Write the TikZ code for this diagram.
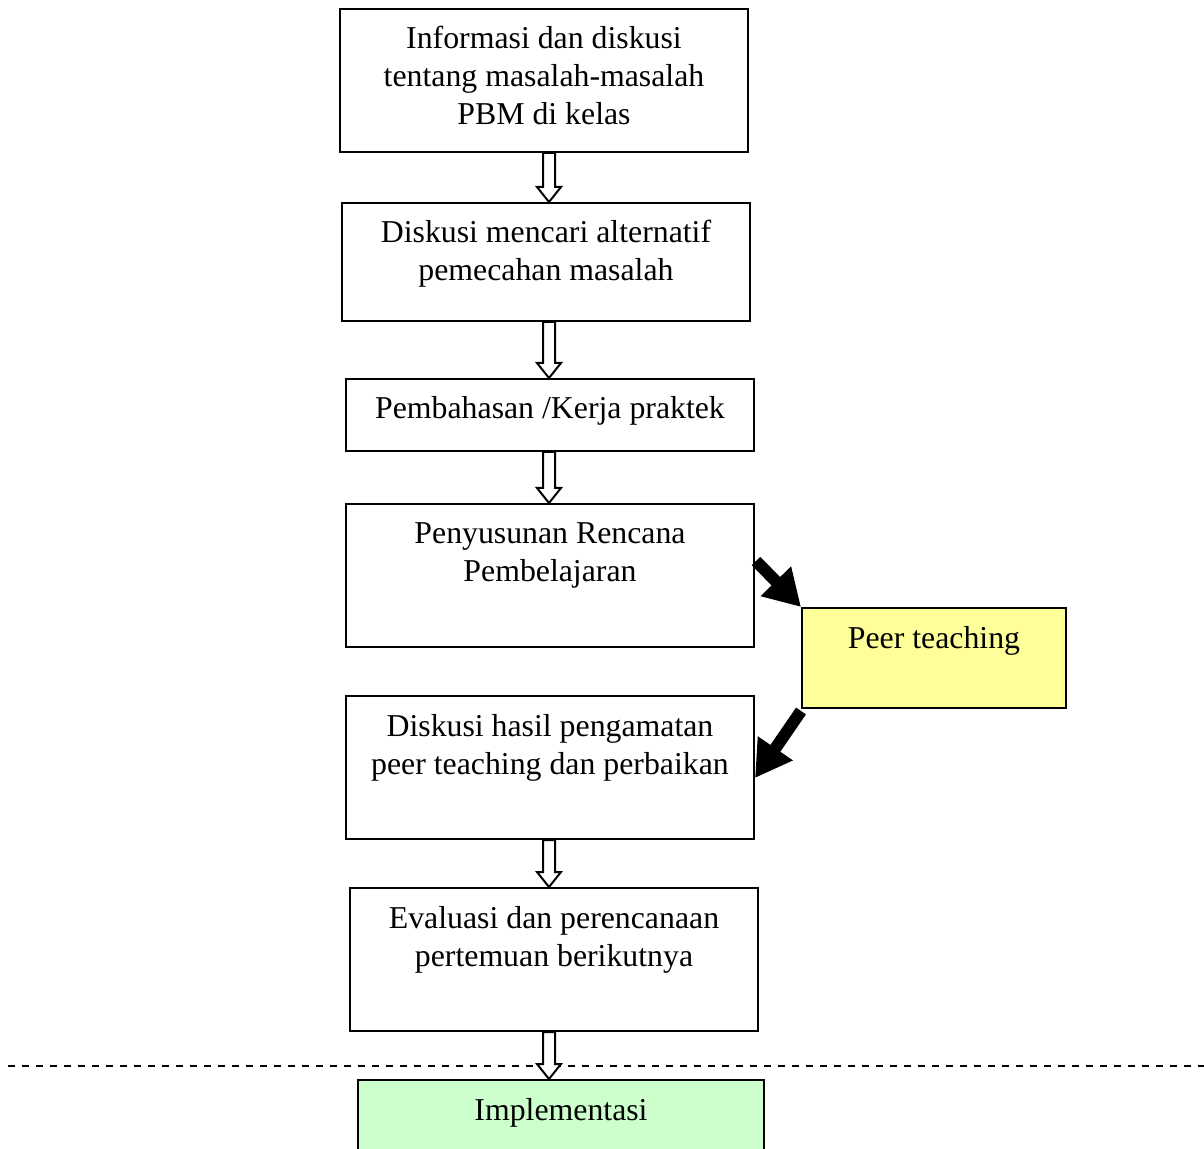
\documentclass[tikz,border=0pt]{standalone}
\usepackage{fontspec}
\setmainfont{Liberation Serif}
\usetikzlibrary{arrows.meta,calc}

\newlength\pxu
\setlength\pxu{0.5pt}
% box contents: fixed width and height, lines start at the top
\newcommand\bxt[3]{\parbox[t][#2\pxu][t]{#1\pxu}{\centering\rule{0pt}{20pt}#3\par}}

\tikzset{
  box/.style={draw, line width=1pt, anchor=north west, inner sep=0pt, fill=white,
              font=\fontsize{15.9pt}{19pt}\selectfont},
  hol/.style={draw, line width=1pt, fill=white, line join=miter},
  fat/.style={line width=6pt, -{Triangle[length=18pt,width=20pt]}},
  dashline/.style={line width=1pt, dash pattern=on 3.5pt off 3.5pt},
}

% hollow block arrow from the bottom of one box to the top of the next
\newcommand\hollow[2]{%
  \path[hol] let \p1=(#1.south -| ax), \p2=(#2.north -| ax) in
    (\x1-3pt,\y1) -- (\x1-3pt,\y2+7.5pt) -- (\x1-6pt,\y2+7.5pt) -- (\x1,\y2)
    -- (\x1+6pt,\y2+7.5pt) -- (\x1+3pt,\y2+7.5pt) -- (\x1+3pt,\y1) -- cycle;}

\begin{document}
\begin{tikzpicture}[x=0.5pt,y=-0.5pt]
\useasboundingbox (0,0) rectangle (1204,1149);
\clip (0,0) rectangle (1204,1149);

\coordinate (ax) at (549,0);

\node[box] (b1) at (339,8) {\bxt{408}{143}{Informasi dan diskusi\\tentang masalah-masalah\\PBM di kelas}};
\node[box] (b2) at (341,202) {\bxt{408}{118}{Diskusi mencari alternatif\\pemecahan masalah}};
\node[box] (b3) at (345,378) {\bxt{408}{72}{Pembahasan /Kerja praktek}};
\node[box] (b4) at (345,503) {\bxt{408}{143}{Penyusunan Rencana\\Pembelajaran}};
\node[box, fill={rgb,255:red,255;green,255;blue,153}] (peer) at (801,607) {\bxt{264}{100}{Peer teaching}};
\node[box] (b6) at (345,695) {\bxt{408}{143}{Diskusi hasil pengamatan\\peer teaching dan perbaikan}};
\node[box] (b7) at (349,887) {\bxt{408}{143}{Evaluasi dan perencanaan\\pertemuan berikutnya}};

\draw[dashline] (8,1066) -- (1204,1066);

\node[box, fill={rgb,255:red,204;green,255;blue,204}] (impl) at (357,1079) {\bxt{406}{100}{Implementasi}};

\hollow{b1}{b2}
\hollow{b2}{b3}
\hollow{b3}{b4}
\hollow{b6}{b7}
\hollow{b7}{impl}

\draw[fat] ($(b4.north east)+(1,58)$) -- (peer.north west);
\draw[fat] ($(peer.south west)+(0,2)$) -- ($(b6.north east)+(0,83)$);
\end{tikzpicture}
\end{document}
